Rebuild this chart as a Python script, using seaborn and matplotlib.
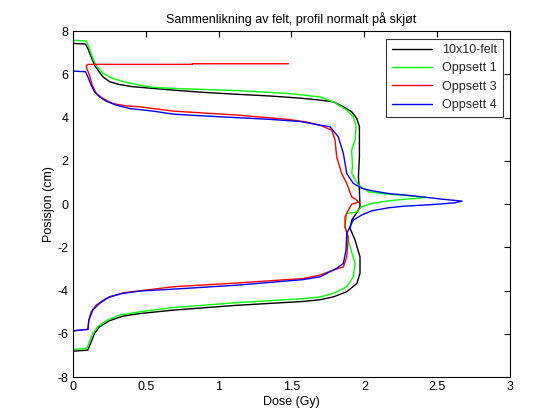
import matplotlib
matplotlib.use("Agg")
import matplotlib.pyplot as plt
import seaborn as sns
import pandas as pd

# ---- data (dose in Gy, position in cm) ----
felt_dose = [0.0, 0.087, 0.103, 0.126, 0.149, 0.172, 0.206, 0.252, 0.32, 0.41, 0.55, 0.69, 0.89,
             1.12, 1.35, 1.56, 1.696, 1.787, 1.856, 1.913, 1.948, 1.966, 1.966, 1.959, 1.966, 1.97,
             1.948, 1.913, 1.902, 1.936, 1.97, 1.97, 1.948, 1.879, 1.787, 1.696, 1.58, 1.12, 0.69,
             0.458, 0.343, 0.252, 0.183, 0.149, 0.126, 0.103, 0.0]
felt_pos = [7.43, 7.40, 7.20, 6.81, 6.43, 6.20, 5.89, 5.66, 5.53, 5.43, 5.35, 5.27, 5.17,
            5.08, 5.00, 4.90, 4.81, 4.73, 4.50, 4.27, 3.96, 3.58, 2.19, 1.26, 0.65, -0.12,
            -0.40, -0.74, -1.12, -1.66, -2.44, -3.20, -3.67, -4.05, -4.29, -4.42, -4.50, -4.68, -4.90,
            -5.06, -5.18, -5.39, -5.67, -5.98, -6.37, -6.75, -6.80]

opp1_dose = [0.0, 0.092, 0.114, 0.137, 0.16, 0.206, 0.275, 0.366, 0.458, 0.55, 0.69, 1.12, 1.47,
             1.60, 1.70, 1.787, 1.879, 1.924, 1.943, 1.936, 1.913, 1.918, 1.913, 1.959, 2.03, 2.165,
             2.28, 2.42, 2.35, 2.28, 2.165, 2.05, 1.98, 1.95, 1.879, 1.867, 1.902, 1.936, 1.924,
             1.879, 1.787, 1.696, 1.58, 1.12, 0.69, 0.458, 0.32, 0.229, 0.172, 0.137, 0.114, 0.096, 0.0]
opp1_pos = [7.58, 7.54, 7.20, 6.74, 6.43, 6.04, 5.81, 5.63, 5.50, 5.40, 5.35, 5.25, 5.12,
            5.03, 4.95, 4.73, 4.35, 4.04, 3.58, 2.96, 2.50, 1.73, 1.42, 0.88, 0.57, 0.46,
            0.40, 0.31, 0.26, 0.23, 0.15, 0.03, -0.12, -0.36, -0.43, -1.05, -1.97, -2.74, -3.36,
            -3.82, -4.13, -4.29, -4.37, -4.56, -4.78, -4.98, -5.13, -5.39, -5.67, -5.98, -6.37, -6.67, -6.72]

opp3_dose = [1.48, 0.82, 0.82, 0.137, 0.103, 0.092, 0.096, 0.114, 0.133, 0.16, 0.206, 0.275, 0.366,
             0.458, 0.69, 1.12, 1.47, 1.60, 1.696, 1.776, 1.799, 1.81, 1.844, 1.879, 1.913, 1.948,
             1.959, 1.913, 1.89, 1.867, 1.867, 1.89, 1.879, 1.856, 1.787, 1.696, 1.58, 1.12, 0.69,
             0.458, 0.343, 0.229, 0.16, 0.126, 0.11, 0.105, 0.0]
opp3_pos = [6.49, 6.49, 6.46, 6.46, 6.46, 6.38, 6.27, 5.97, 5.50, 5.12, 4.89, 4.65, 4.54,
            4.50, 4.30, 4.12, 3.92, 3.80, 3.65, 3.42, 2.96, 2.19, 1.42, 0.96, 0.34, 0.18,
            0.08, 0.0, -0.28, -0.59, -1.05, -1.51, -2.44, -2.90, -3.05, -3.28, -3.44, -3.65, -3.82,
            -4.01, -4.10, -4.36, -4.67, -4.98, -5.36, -5.79, -5.86]

opp4_dose = [0.0, 0.087, 0.103, 0.126, 0.149, 0.183, 0.229, 0.297, 0.389, 0.55, 0.69, 0.89, 1.12,
             1.35, 1.56, 1.696, 1.764, 1.821, 1.856, 1.879, 1.924, 1.982, 2.05, 2.165, 2.28, 2.394,
             2.53, 2.67, 2.62, 2.51, 2.394, 2.28, 2.165, 2.05, 1.98, 1.924, 1.879, 1.874, 1.856,
             1.81, 1.696, 1.58, 1.12, 0.69, 0.458, 0.343, 0.252, 0.183, 0.137, 0.11, 0.103, 0.0]
opp4_pos = [6.15, 6.12, 5.89, 5.50, 5.19, 4.96, 4.76, 4.58, 4.42, 4.30, 4.16, 4.08, 4.00,
            3.92, 3.82, 3.65, 3.58, 3.11, 2.34, 1.42, 0.96, 0.73, 0.62, 0.49, 0.42, 0.34,
            0.23, 0.14, 0.06, 0.0, -0.05, -0.09, -0.17, -0.31, -0.51, -0.74, -1.35, -2.13, -2.74,
            -2.97, -3.36, -3.49, -3.75, -3.93, -4.02, -4.13, -4.28, -4.59, -4.90, -5.36, -5.79, -5.86]

series_names = ["10x10-felt", "Oppsett 1", "Oppsett 3", "Oppsett 4"]
colors = ["#000000", "#00ff00", "#ff0000", "#0000ff"]
x_ticks = [0, 0.5, 1, 1.5, 2, 2.5, 3]
y_ticks = [-8, -6, -4, -2, 0, 2, 4, 6, 8]

sns.set_theme(style="white")
plt.rcParams["font.family"] = ["Liberation Sans", "DejaVu Sans"]

fig = plt.figure(figsize=(5.6, 4.2), dpi=100)
ax = fig.add_axes([0.130, 0.102, 0.781, 0.824])

all_data = [(felt_dose, felt_pos), (opp1_dose, opp1_pos), (opp3_dose, opp3_pos), (opp4_dose, opp4_pos)]
for (d, p), name, c in zip(all_data, series_names, colors):
    df = pd.DataFrame({"dose": d, "pos": p})
    sns.lineplot(data=df, x="dose", y="pos", sort=False, estimator=None, color=c,
                 linewidth=1.0, label=name, ax=ax)

ax.set_xlim(0, 3)
ax.set_ylim(-8, 8)
ax.set_xticks(x_ticks)
ax.set_xticklabels([f"{v:g}" for v in x_ticks])
ax.set_yticks(y_ticks)
ax.set_yticklabels([f"{v:g}" for v in y_ticks])
ax.tick_params(direction="in", length=4, width=0.8, top=True, right=True,
               labelsize=9, colors="black", pad=3)
for s in ax.spines.values():
    s.set_color("black")
    s.set_linewidth(0.8)

ax.set_xlabel("Dose (Gy)", fontsize=9, color="black", labelpad=2)
ax.set_ylabel("Posisjon (cm)", fontsize=9, color="black", labelpad=2)
ax.set_title("Sammenlikning av felt, profil normalt på skjøt", fontsize=9, color="black", pad=6)

leg = ax.legend(loc="upper right", fontsize=9, frameon=True, fancybox=False,
                edgecolor="black", handlelength=3.2, borderpad=0.45, labelspacing=0.5,
                borderaxespad=0.6)
leg.get_frame().set_linewidth(0.8)

fig.savefig("out.png", dpi=100, facecolor="white")
